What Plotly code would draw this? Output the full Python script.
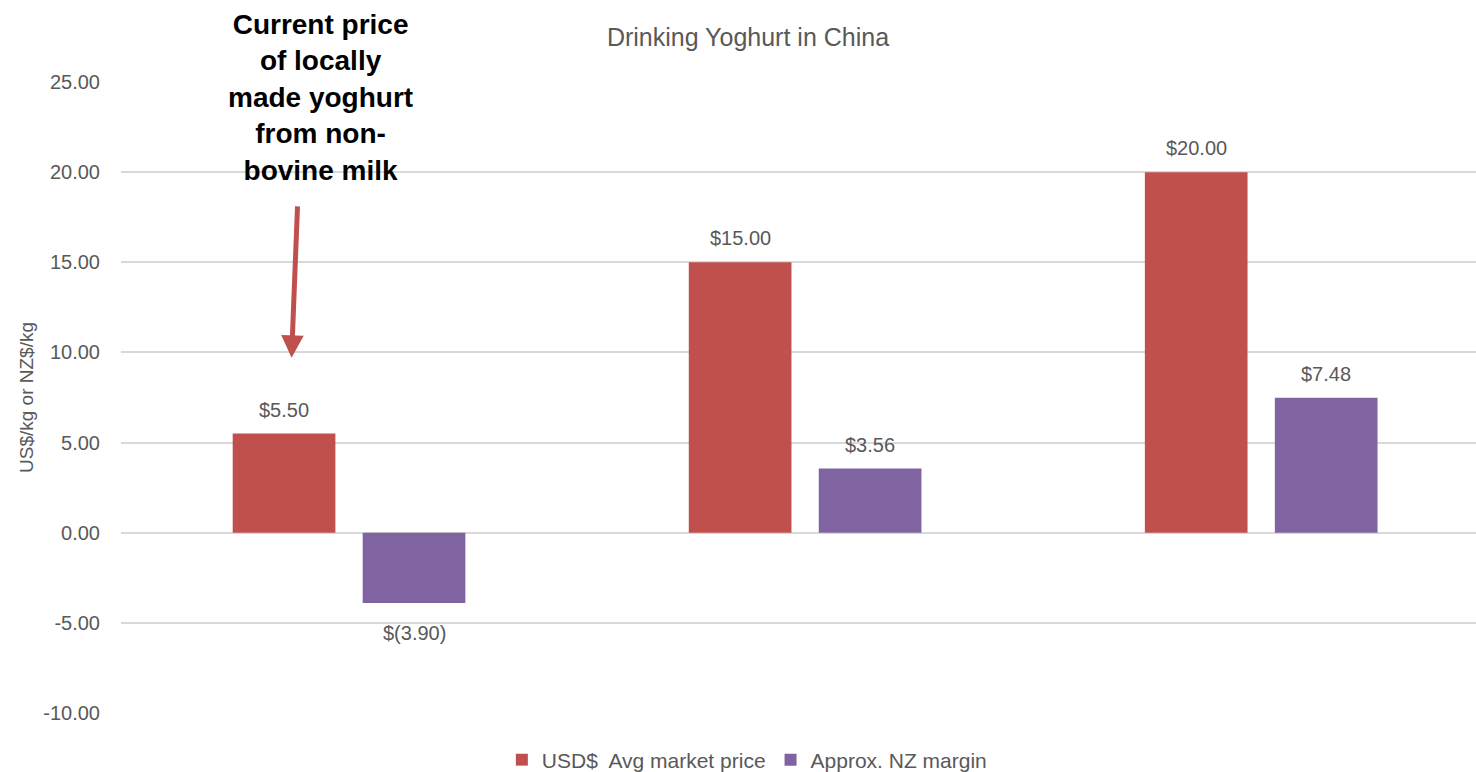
import plotly.graph_objects as go

categories = ["Local non-bovine", "Imported mid", "Imported premium"]
market_price = [5.50, 15.00, 20.00]
nz_margin = [-3.90, 3.56, 7.48]
series_names = ["USD$  Avg market price", "Approx. NZ margin"]
tick_vals = [-10, -5, 0, 5, 10, 15, 20, 25]
tick_text = ["-10.00", "-5.00", "0.00", "5.00", "10.00", "15.00", "20.00", "25.00"]

RED = "#C0504D"
PURPLE = "#8064A2"
GREY = "#595959"
FONT = "Liberation Sans, Arial, Helvetica, sans-serif"
BARGAP = 0.43


def money(v):
    return f"$({abs(v):.2f})" if v < 0 else f"${v:.2f}"


W, H = 1476, 772
L, R, T, B = 121, 0, 82, 59
pw, ph = W - L - R, H - T - B

fig = go.Figure()
fig.add_trace(go.Bar(x=categories, y=market_price, name=series_names[0],
                     marker=dict(color=RED, line=dict(width=0))))
fig.add_trace(go.Bar(x=categories, y=nz_margin, name=series_names[1],
                     marker=dict(color=PURPLE, line=dict(width=0))))

offset = (1 - BARGAP) / 4
for vals, sgn in [(market_price, -1), (nz_margin, 1)]:
    for i, v in enumerate(vals):
        fig.add_annotation(
            x=i + sgn * offset, y=v, xref="x", yref="y",
            text=money(v), showarrow=False, xanchor="center",
            yanchor="bottom" if v >= 0 else "top",
            yshift=11 if v >= 0 else -17,
            font=dict(family=FONT, size=20, color=GREY))

fig.add_annotation(
    x=(320 - L) / pw, y=(H - B - 97) / ph, xref="paper", yref="paper",
    xanchor="center", yanchor="middle", showarrow=False,
    text="<b>Current price<br>of locally<br>made yoghurt<br>from non-<br>bovine milk</b>",
    font=dict(family=FONT, size=28, color="black"), align="center")

# red arrow pointing at the first market price bar
fig.add_annotation(x=-0.126, y=9.7, xref="x", yref="y", text="",
                   showarrow=True, arrowhead=2, arrowsize=0.9, arrowwidth=5,
                   arrowcolor=RED, ax=6, ay=-153, standoff=0)

fig.update_layout(
    width=W, height=H,
    margin=dict(l=L, r=R, t=T, b=B, autoexpand=False),
    paper_bgcolor="white", plot_bgcolor="white",
    barmode="group", bargap=BARGAP, bargroupgap=0.21,
    title=dict(text="Drinking Yoghurt in China", x=748 / W, xanchor="center",
               y=1 - 37 / H, yanchor="middle",
               font=dict(family=FONT, size=25, color=GREY)),
    font=dict(family=FONT, color=GREY),
    showlegend=True,
    legend=dict(orientation="h", xref="container", yref="container",
                x=0.506, xanchor="center", y=12 / H, yanchor="middle",
                font=dict(family=FONT, size=21, color=GREY),
                itemwidth=30, traceorder="normal"),
    xaxis=dict(range=[-0.5, 2.471], showticklabels=False, showgrid=False,
               zeroline=False, showline=False, ticks=""),
    yaxis=dict(range=[-10, 25], tickvals=tick_vals, ticktext=tick_text,
               showgrid=True, gridcolor="#D9D9D9", gridwidth=1.5,
               zeroline=False, showline=False,
               ticks="outside", ticklen=16, tickcolor="rgba(0,0,0,0)",
               tickfont=dict(family=FONT, size=20, color=GREY),
               title=dict(text="US$/kg or NZ$/kg", standoff=4,
                          font=dict(family=FONT, size=19, color=GREY)),
               automargin=False),
)

fig.write_html("out.html")
